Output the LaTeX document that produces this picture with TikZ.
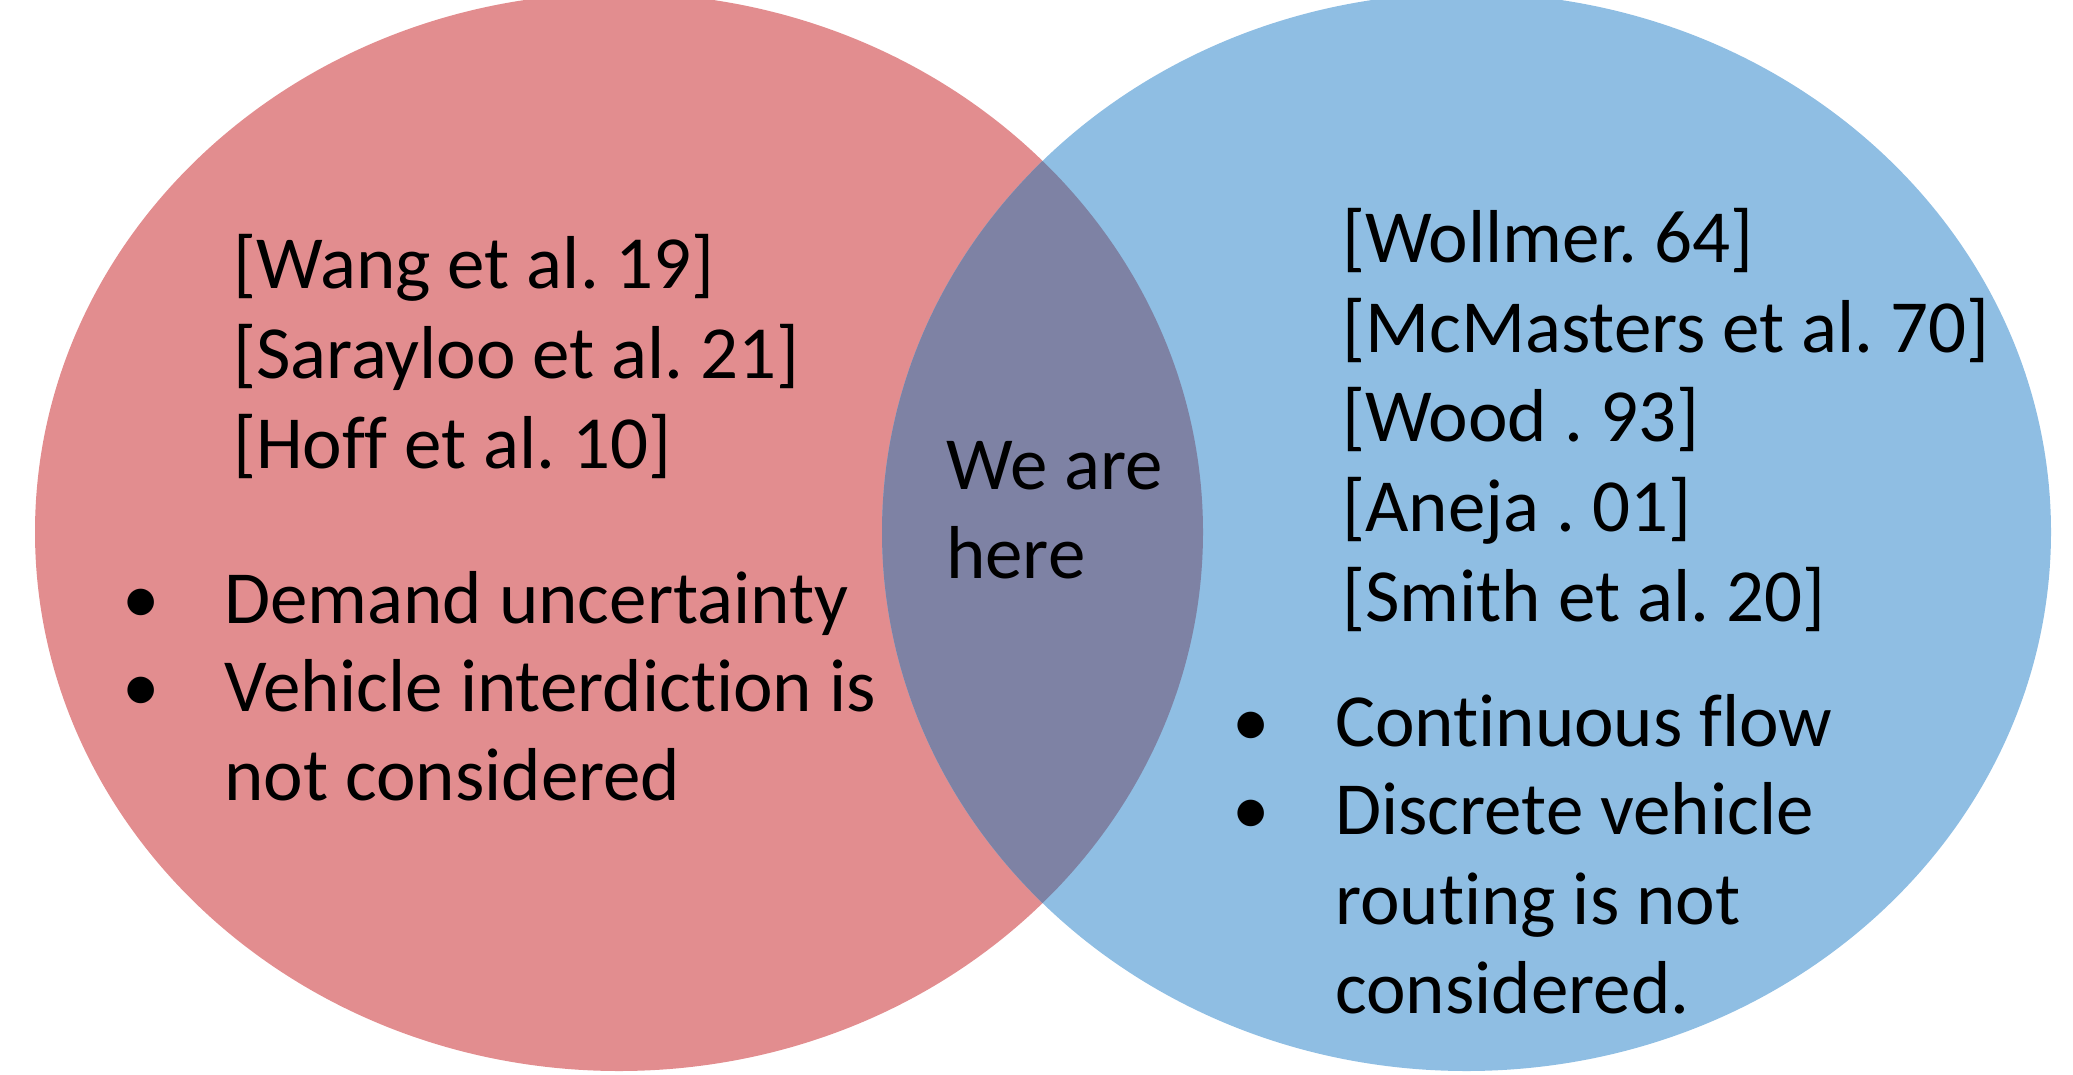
\documentclass[tikz,border=0pt]{standalone}
\usepackage{fontspec}
\setmainfont[Ligatures={NoCommon}]{Carlito}
\frenchspacing
\definecolor{pinkc}{HTML}{E28D8F}
\definecolor{bluec}{HTML}{8FBEE3}
\definecolor{overc}{HTML}{7E82A4}
\tikzset{
  txt/.style={anchor=base west, inner sep=0pt, font=\fontsize{75}{90}\selectfont\frenchspacing, text=black},
  bul/.style={anchor=base, inner sep=0pt, font=\fontsize{75}{90}\selectfont, text=black}
}
\begin{document}
\begin{tikzpicture}[x=1pt,y=-1pt]
\useasboundingbox (0,0) rectangle (2073,1074);
\clip (0,0) rectangle (2073,1074);
% circles
\fill[pinkc] (619,532) ellipse [x radius=584, y radius=539];
\fill[bluec] (1466.5,532) ellipse [x radius=584.5, y radius=539];
\begin{scope}
  \clip (619,532) ellipse [x radius=584, y radius=539];
  \fill[overc] (1466.5,532) ellipse [x radius=584.5, y radius=539];
\end{scope}
% left references
\node[txt] (l1) at (233,288) {[Wang et al. 19]};
\node[txt] (l2) at (233,378) {[Sarayloo et al. 21]};
\node[txt] (l3) at (233,468) {[Hoff et al. 10]};
% left bullets
\node[bul] (lb1) at (141.5,623) {•};
\node[txt] (lt1) at (224,623) {Demand uncertainty};
\node[bul] (lb2) at (141.5,711) {•};
\node[txt] (lt2) at (224,711) {Vehicle interdiction is};
\node[txt] (lt3) at (224,800) {not considered};
% middle
\node[txt] (m1) at (946,489) {We are};
\node[txt] (m2) at (946,578) {here};
% right references
\node[txt] (r1) at (1342,262) {[Wollmer. 64]};
\node[txt] (r2) at (1342,352) {[McMasters et al. 70]};
\node[txt] (r3) at (1342,441.5) {[Wood . 93]};
\node[txt] (r4) at (1342,531.5) {[Aneja . 01]};
\node[txt] (r5) at (1342,621) {[Smith et al. 20]};
% right bullets
\node[bul] (rb1) at (1251,746) {•};
\node[txt] (rt1) at (1335,746) {Continuous flow};
\node[bul] (rb2) at (1251,834) {•};
\node[txt] (rt2) at (1335,834) {Discrete vehicle};
\node[txt] (rt3) at (1335,924) {routing is not};
\node[txt] (rt4) at (1335,1013) {considered.};
\end{tikzpicture}
\end{document}
